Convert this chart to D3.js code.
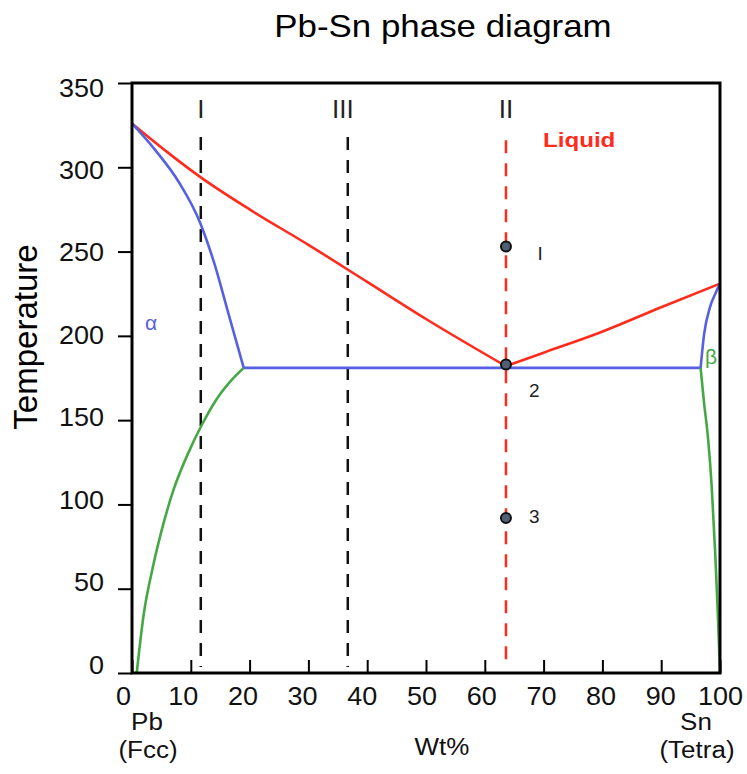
<!DOCTYPE html>
<html>
<head>
<meta charset="utf-8">
<script src="https://cdn.jsdelivr.net/npm/d3@7"></script>
<style>
  body { margin: 0; background: #fff; }
  svg text { font-family: "Liberation Sans", Arial, sans-serif; }
</style>
</head>
<body>
<div id="chart"></div>
<script>
  // phase boundaries, [wt% Sn, temperature]
  var liquidusLeft = [[0,326],[6,309],[11.7,294],[20,275],[30,254],[40,232],[50,210],[63.6,182]];
  var liquidusRight = [[63.6,182],[70,190],[79.6,202],[90,217],[100,231]];
  var solidusAlpha = [[0,326],[4,310],[8,291],[11.6,267],[14,243],[16.5,212],[19,181]];
  var solidusBeta = [[96.7,181],[97.3,201],[98.3,217],[99.2,225],[100,231]];
  var eutectic = [[19,181],[96.7,181]];
  var solvusAlpha = [[0.8,0],[2,35],[3.5,62],[5,84],[7,108],[9.5,130],[12,148],[14.5,163],[17,174],[19,181]];
  var solvusBeta = [[96.7,181],[97.3,160],[98,138],[98.6,110],[99.2,70],[99.6,38],[100,0]];

  // alloy lines: name, composition, top temperature
  var alloyNames = ["I", "III", "II"];
  var alloyComp = [11.7, 36.7, 63.6];
  var alloyTop = [318, 318, 316];

  // points on alloy II
  var pointTemps = [253, 183, 92];
  var pointNames = ["I", "2", "3"];

  var xTicks = [0,10,20,30,40,50,60,70,80,90,100];
  var yTicks = [0,50,100,150,200,250,300,350];

  var width = 747, height = 774;
  var red = "#ff2b1c", blue = "#5561e0", green = "#45a845";

  var svg = d3.select("#chart")
              .append("svg")
              .attr("width", width)
              .attr("height", height);

  var x = d3.scaleLinear().domain([0, 100]).range([132, 720]);
  var y = d3.scaleLinear().domain([0, 350]).range([673, 83]);
  // tick labels sit a little off the ticks in the original
  var xl = d3.scaleLinear().domain([0, 100]).range([123, 720]);
  var yl = d3.scaleLinear().domain([0, 350]).range([665, 88]);

  svg.append("text")
     .attr("transform", "translate(443,37) scale(1.09,1)")
     .attr("text-anchor", "middle")
     .style("font-size", "32px")
     .text("Pb-Sn phase diagram");

  svg.append("text")
     .attr("transform", "translate(37,337) rotate(-90)")
     .attr("text-anchor", "middle")
     .style("font-size", "33px")
     .text("Temperature");

  var xAxis = svg.append("g")
     .attr("transform", "translate(0," + y(0) + ")")
     .call(d3.axisBottom(x).tickValues(xTicks).tickSizeInner(-13).tickSizeOuter(0).tickPadding(16));
  xAxis.select(".domain").remove();
  xAxis.selectAll("line").attr("stroke-width", 2);
  xAxis.selectAll("text")
       .attr("x", function(d) { return (xl(d) - x(d)) / 1.08; })
       .attr("y", 14)
       .attr("transform", "scale(1.08,1)")
       .style("font-size", "25px")
       .attr("fill", "#111");

  var yAxis = svg.append("g")
     .attr("transform", "translate(" + x(0) + ",0)")
     .call(d3.axisLeft(y).tickValues(yTicks).tickSizeInner(14).tickSizeOuter(0).tickPadding(14));
  yAxis.select(".domain").remove();
  yAxis.selectAll("line").attr("stroke-width", 2);
  yAxis.selectAll("text")
       .attr("y", function(d) { return yl(d) - y(d); })
       .attr("x", -28 / 1.08)
       .attr("transform", "scale(1.08,1)")
       .style("font-size", "25px")
       .attr("fill", "#111");

  var bottomLabels = [["Pb", 147, 730], ["(Fcc)", 148, 758], ["Wt%", 442, 755], ["Sn", 696, 730], ["(Tetra)", 697, 758]];
  svg.selectAll(".blabel")
     .data(bottomLabels)
     .enter()
     .append("text")
     .attr("class", "blabel")
     .attr("transform", function(d) { return "translate(" + d[1] + "," + d[2] + ") scale(1.13,1)"; })
     .attr("text-anchor", "middle")
     .style("font-size", "23px")
     .attr("fill", "#111")
     .text(function(d) { return d[0]; });

  var line = d3.line()
               .x(function(d) { return x(d[0]); })
               .y(function(d) { return y(d[1]); })
               .curve(d3.curveMonotoneX);

  // dashed alloy lines
  svg.selectAll(".alloy")
     .data(alloyComp)
     .enter()
     .append("line")
     .attr("class", "alloy")
     .attr("x1", function(d) { return x(d); })
     .attr("x2", function(d) { return x(d); })
     .attr("y1", function(d, i) { return y(alloyTop[i]); })
     .attr("y2", y(3.5))
     .attr("stroke", function(d, i) { return i == 2 ? red : "#111"; })
     .attr("stroke-width", 2.5)
     .attr("stroke-dasharray", "13,10");

  svg.selectAll(".alloyName")
     .data(alloyNames)
     .enter()
     .append("text")
     .attr("class", "alloyName")
     .attr("x", function(d, i) { return x(alloyComp[i]) - (i == 1 ? 5 : 0); })
     .attr("y", 118)
     .attr("text-anchor", "middle")
     .style("font-size", "26px")
     .attr("fill", "#222")
     .text(function(d) { return d; });

  var curves = [
    [liquidusLeft, red], [liquidusRight, red],
    [solidusAlpha, blue], [solidusBeta, blue], [eutectic, blue],
    [solvusAlpha, green], [solvusBeta, green]
  ];
  svg.selectAll(".curve")
     .data(curves)
     .enter()
     .append("path")
     .attr("class", "curve")
     .attr("d", function(d) { return line(d[0]); })
     .attr("fill", "none")
     .attr("stroke", function(d) { return d[1]; })
     .attr("stroke-width", 2.6);

  // frame
  svg.append("rect")
     .attr("x", x(0))
     .attr("y", y(350))
     .attr("width", x(100) - x(0))
     .attr("height", y(0) - y(350))
     .attr("fill", "none")
     .attr("stroke", "#000")
     .attr("stroke-width", 3);

  svg.selectAll(".pt")
     .data(pointTemps)
     .enter()
     .append("circle")
     .attr("class", "pt")
     .attr("cx", x(63.6))
     .attr("cy", function(d) { return y(d); })
     .attr("r", 5)
     .attr("fill", "#4f6075")
     .attr("stroke", "#111")
     .attr("stroke-width", 2);

  var pointLabelX = [69.4, 68.4, 68.4];
  var pointLabelT = [245, 164, 89];
  svg.selectAll(".ptName")
     .data(pointNames)
     .enter()
     .append("text")
     .attr("class", "ptName")
     .attr("x", function(d, i) { return x(pointLabelX[i]); })
     .attr("y", function(d, i) { return y(pointLabelT[i]); })
     .attr("text-anchor", "middle")
     .style("font-size", "19px")
     .attr("fill", "#222")
     .text(function(d) { return d; });

  svg.append("text")
     .attr("transform", "translate(543,147) scale(1.15,1)")
     .style("font-size", "21px")
     .style("font-weight", "bold")
     .attr("fill", red)
     .text("Liquid");

  svg.append("text")
     .attr("x", 145)
     .attr("y", 330)
     .style("font-size", "21px")
     .attr("fill", blue)
     .text("α");

  svg.append("text")
     .attr("x", 705)
     .attr("y", 364)
     .style("font-size", "21px")
     .attr("fill", green)
     .text("β");
</script>
</body>
</html>
